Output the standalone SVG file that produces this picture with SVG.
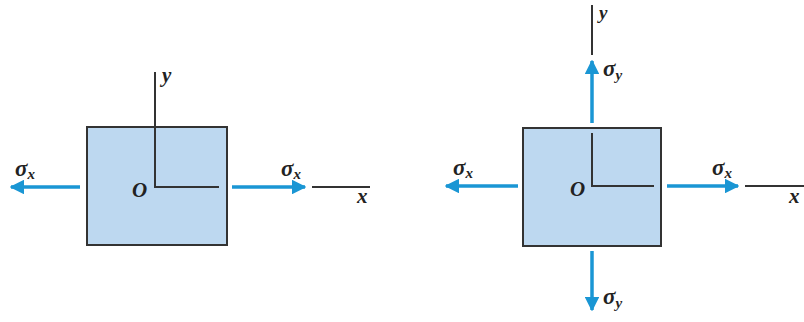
<svg xmlns="http://www.w3.org/2000/svg" width="804" height="322" viewBox="0 0 804 322">
<defs>
<style>
.box{fill:#bdd8f0;stroke:#333;stroke-width:2}
.axis{stroke:#333;stroke-width:2;fill:none}
.force{stroke:#1a96d4;stroke-width:3.5;fill:none}
.lbl{font-family:"Liberation Serif",serif;font-style:italic;font-weight:bold;font-size:21px;fill:#222}
.sig{font-size:23px}
.sub{font-size:15px}
</style>
<marker id="ah" viewBox="0 0 10 10" refX="9" refY="5" markerWidth="4.2" markerHeight="4.2" orient="auto" markerUnits="strokeWidth">
<path d="M0,0 L10,5 L0,10 z" fill="#1a96d4"/>
</marker>
</defs>
<rect width="804" height="322" fill="#fff"/>
<g id="left-element">
<rect class="box" x="87" y="127" width="140" height="118"/>
<polyline class="axis" points="155,72 155,187 219,187"/>
<line class="axis" x1="312" y1="187" x2="370" y2="187"/>
<text class="lbl" x="162" y="82">y</text>
<text class="lbl" x="357" y="203">x</text>
<text class="lbl" x="132" y="197">O</text>
</g>
<g id="right-element">
<rect class="box" x="523" y="128" width="138" height="118"/>
<polyline class="axis" points="592,133 592,186 654,186"/>
<line class="axis" x1="592" y1="5" x2="592" y2="55"/>
<line class="axis" x1="745" y1="186" x2="804" y2="186"/>
<text class="lbl" x="599" y="19" style="font-size:19px">y</text>
<text class="lbl" x="789" y="203">x</text>
<text class="lbl" x="570" y="196">O</text>
</g>
<g id="connectors">
<line class="force" x1="80" y1="187" x2="11" y2="187" marker-end="url(#ah)"/>
<line class="force" x1="232" y1="187" x2="305" y2="187" marker-end="url(#ah)"/>
<line class="force" x1="518" y1="186" x2="446" y2="186" marker-end="url(#ah)"/>
<line class="force" x1="667" y1="186" x2="738" y2="186" marker-end="url(#ah)"/>
<line class="force" x1="592" y1="123" x2="592" y2="61" marker-end="url(#ah)"/>
<line class="force" x1="592" y1="251" x2="592" y2="310" marker-end="url(#ah)"/>
</g>
<g id="labels">
<text class="lbl sig" x="15" y="176">σ<tspan class="sub" dy="3">x</tspan></text>
<text class="lbl sig" x="281" y="176">σ<tspan class="sub" dy="3">x</tspan></text>
<text class="lbl sig" x="453" y="175">σ<tspan class="sub" dy="3">x</tspan></text>
<text class="lbl sig" x="712" y="175">σ<tspan class="sub" dy="3">x</tspan></text>
<text class="lbl sig" x="603" y="76">σ<tspan class="sub" dy="4">y</tspan></text>
<text class="lbl sig" x="603" y="304">σ<tspan class="sub" dy="4">y</tspan></text>
</g>
</svg>
